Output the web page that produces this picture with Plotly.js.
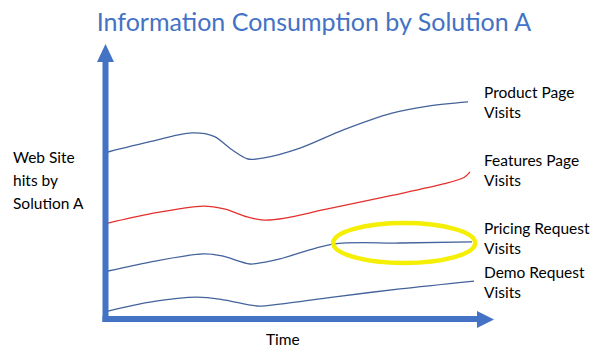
<!DOCTYPE html>
<html>
<head>
<meta charset="utf-8">
<script src="https://cdn.plot.ly/plotly-3.0.1.min.js"></script>
<style>html,body{margin:0;padding:0;background:#fff;}#chart{width:602px;height:360px;}</style>
</head>
<body>
<div id="chart"></div>
<script>
// ---- data (time in arbitrary units, hits in arbitrary units) ----
const chartTitle = "Information Consumption by Solution A";
const yLabelLines = ["Web Site", "hits by", "Solution A"];
const xLabel = "Time";

const productTime = [0.2, 1.2, 2.3, 2.85, 3.3, 3.7, 4.1, 5.0, 6.1, 7.3, 8.2, 9.2];
const productHits = [60, 63.5, 66.8, 65.6, 60.8, 57.5, 57.9, 61.4, 68.0, 73.9, 76.4, 77.9];

const featuresTime = [0.2, 1.25, 2.58, 3.13, 3.68, 4.1, 4.63, 5.6, 7.33, 8.58, 9.1, 9.25];
const featuresHits = [34.6, 37.9, 40.7, 39.6, 36.8, 35.7, 36.4, 39.4, 44.6, 48.6, 50.9, 52.9];

const pricingTime = [0.2, 1.25, 2.58, 3.05, 3.75, 4.13, 4.5, 5.83, 7.5, 9.3];
const pricingHits = [17.5, 20.7, 23.6, 22.9, 20.0, 20.7, 21.8, 27.1, 27.5, 27.9];

const demoTime = [0.2, 1.25, 2.43, 3.13, 3.93, 4.5, 5.83, 7.5, 9.35];
const demoHits = [3.2, 6.4, 8.2, 7.1, 5.0, 5.7, 8.2, 11.1, 13.9];

const seriesNames = ["Product Page<br>Visits", "Features Page<br>Visits", "Pricing Request<br>Visits", "Demo Request<br>Visits"];
const highlightTime = [5.83, 9.38];
const highlightHits = [20.4, 34.6];

// ---- layout helpers ----
const L = 100, R = 102, T = 40, B = 40, W = 602, H = 360;
const pw = W - L - R, ph = H - T - B;
const PX = px => (px - L) / pw;
const PY = py => (H - B - py) / ph;

const blue = "#4472C4";
const lineBlue = "#44629b";
const red = "#e3302c";
const font = "Lato, 'Open Sans', sans-serif";

function tr(x, y, color) {
  return {x: x, y: y, type: "scatter", mode: "lines",
    line: {color: color, width: 1.3, shape: "spline", smoothing: 0.9},
    hoverinfo: "skip", showlegend: false};
}
const traces = [
  tr(productTime, productHits, lineBlue),
  tr(featuresTime, featuresHits, red),
  tr(pricingTime, pricingHits, lineBlue),
  tr(demoTime, demoHits, lineBlue)
];

const shapes = [
  {type: "circle", xref: "x", yref: "y", x0: highlightTime[0], x1: highlightTime[1],
   y0: highlightHits[0], y1: highlightHits[1], line: {color: "#f5ee05", width: 4.5}},
  // y axis shaft
  {type: "line", xref: "paper", yref: "paper", x0: PX(105.5), x1: PX(105.5), y0: PY(322), y1: PY(60),
   line: {color: blue, width: 6}},
  // x axis shaft
  {type: "line", xref: "paper", yref: "paper", x0: PX(102.5), x1: PX(478), y0: PY(319), y1: PY(319),
   line: {color: blue, width: 6}},
  // arrow heads
  {type: "path", xref: "paper", yref: "paper",
   path: `M ${PX(97)} ${PY(62)} L ${PX(114)} ${PY(62)} L ${PX(105.5)} ${PY(44)} Z`,
   fillcolor: blue, line: {color: blue, width: 0}},
  {type: "path", xref: "paper", yref: "paper",
   path: `M ${PX(477)} ${PY(311)} L ${PX(477)} ${PY(328)} L ${PX(494)} ${PY(319.5)} Z`,
   fillcolor: blue, line: {color: blue, width: 0}}
];

const labelY = [[92, 112], [160, 180], [228, 249], [272, 292]];
const annotations = [];
seriesNames.forEach((n, i) => {
  annotations.push({xref: "paper", yref: "paper", x: PX(482), y: PY((labelY[i][0] + labelY[i][1]) / 2),
    xanchor: "left", yanchor: "middle", align: "left", showarrow: false, text: n,
    font: {family: font, size: 15.5, color: "#000"}});
});
const ylY = [157, 180, 203];
yLabelLines.forEach((t, i) => {
  annotations.push({xref: "paper", yref: "paper", x: PX(11), y: PY(ylY[i]),
    xanchor: "left", yanchor: "middle", showarrow: false, text: t,
    font: {family: font, size: 15.5, color: "#000"}});
});
annotations.push({xref: "paper", yref: "paper", x: PX(283), y: PY(339),
  xanchor: "center", yanchor: "middle", showarrow: false, text: xLabel,
  font: {family: font, size: 15.5, color: "#000"}});

const layout = {
  width: W, height: H,
  margin: {l: L, r: R, t: T, b: B},
  paper_bgcolor: "#fff", plot_bgcolor: "#fff",
  title: {text: chartTitle, font: {family: font, size: 25, color: blue},
          xref: "container", yref: "container", x: 314 / W, y: 1 - 22 / H,
          xanchor: "center", yanchor: "middle"},
  xaxis: {range: [0, 10], visible: false, fixedrange: true},
  yaxis: {range: [0, 100], visible: false, fixedrange: true},
  shapes: shapes, annotations: annotations,
  hovermode: false, showlegend: false
};
Plotly.newPlot("chart", traces, layout, {displayModeBar: false, staticPlot: true});
</script>
</body>
</html>
